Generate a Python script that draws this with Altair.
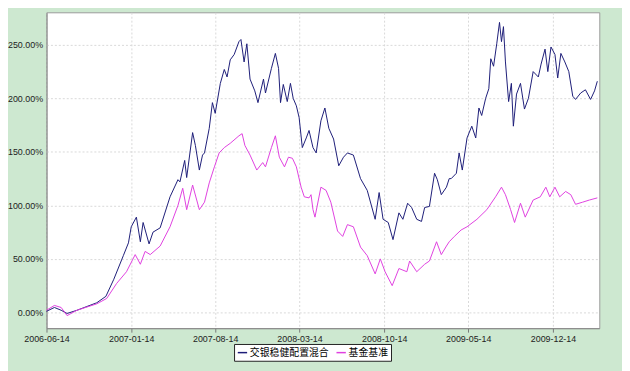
import altair as alt
import pandas as pd

series_names = ["交银稳健配置混合", "基金基准"]
series_colors = ["#1c1c78", "#e040e0"]

fund_dates = [
    "2006-06-14", "2006-07-04", "2006-07-21", "2006-08-05", "2006-08-30", "2006-09-24",
    "2006-10-19", "2006-11-11", "2006-12-01", "2006-12-25", "2007-01-07", "2007-01-14",
    "2007-01-27", "2007-02-06", "2007-02-13", "2007-02-28", "2007-03-10", "2007-03-28",
    "2007-04-22", "2007-05-12", "2007-05-17", "2007-05-29", "2007-06-03", "2007-06-18",
    "2007-06-25", "2007-07-05", "2007-07-13", "2007-07-18", "2007-07-30", "2007-08-07",
    "2007-08-14", "2007-08-27", "2007-09-06", "2007-09-13", "2007-09-21", "2007-10-01",
    "2007-10-13", "2007-10-18", "2007-10-26", "2007-11-02", "2007-11-10", "2007-11-22",
    "2007-11-30", "2007-12-14", "2007-12-19", "2008-01-03", "2008-01-13", "2008-01-21",
    "2008-01-26", "2008-02-02", "2008-02-12", "2008-02-20", "2008-02-27", "2008-03-06",
    "2008-03-13", "2008-03-21", "2008-03-31", "2008-04-07", "2008-04-17", "2008-04-25",
    "2008-05-07", "2008-05-17", "2008-05-27", "2008-06-08", "2008-06-21", "2008-07-03",
    "2008-07-13", "2008-07-28", "2008-08-15", "2008-09-01", "2008-09-21", "2008-10-01",
    "2008-10-11", "2008-10-24", "2008-11-05", "2008-11-20", "2008-11-30", "2008-12-12",
    "2008-12-22", "2009-01-04", "2009-01-16", "2009-01-24", "2009-02-05", "2009-02-18",
    "2009-02-25", "2009-03-07", "2009-03-20", "2009-03-27", "2009-04-01", "2009-04-14",
    "2009-04-21", "2009-04-29", "2009-05-11", "2009-05-23", "2009-06-02", "2009-06-10",
    "2009-06-17", "2009-06-27", "2009-07-05", "2009-07-10", "2009-07-17", "2009-07-25",
    "2009-08-01", "2009-08-06", "2009-08-11", "2009-08-16", "2009-08-24", "2009-08-31",
    "2009-09-05", "2009-09-13", "2009-09-23", "2009-10-03", "2009-10-13", "2009-10-25",
    "2009-11-07", "2009-11-14", "2009-11-24", "2009-12-01", "2009-12-09", "2009-12-19",
    "2009-12-26", "2010-01-03", "2010-01-13", "2010-01-23", "2010-02-02", "2010-02-09",
    "2010-02-22", "2010-03-06", "2010-03-19", "2010-03-29", "2010-04-05",
]
fund_values = [
    1, 4.6, 2, -1, 2, 5.5,
    9, 15, 31, 53, 65, 80,
    89, 66, 84, 64, 75, 79,
    108, 124, 122, 142, 126, 168,
    156, 133, 147, 149, 172, 196,
    186, 214, 227, 220, 236, 241,
    253, 255, 234, 251, 218, 207,
    196, 218, 205, 228, 242, 228,
    196, 213, 197, 214, 200, 193,
    182, 154, 163, 170, 154, 149,
    179, 191, 172, 162, 137, 145,
    149, 147, 125, 114, 87, 112,
    87, 84, 68, 93, 87, 102,
    98, 87, 85, 98, 99, 130,
    124, 110, 117, 125, 125, 130,
    149, 133, 163, 174, 163, 191,
    184, 200, 209, 237, 230, 251,
    271, 253, 267, 234, 197, 214,
    174, 204, 214, 190, 200, 225,
    220, 232, 246, 225, 248, 241,
    219, 242, 234, 225, 202, 199,
    205, 208, 199, 207, 216,
]

bench_dates = [
    "2006-06-14", "2006-07-04", "2006-07-21", "2006-08-05", "2006-08-30", "2006-10-19",
    "2006-11-13", "2006-12-08", "2007-01-02", "2007-01-24", "2007-02-06", "2007-02-18",
    "2007-03-03", "2007-03-28", "2007-04-22", "2007-05-12", "2007-05-24", "2007-06-03",
    "2007-06-18", "2007-07-05", "2007-07-18", "2007-07-30", "2007-08-12", "2007-08-24",
    "2007-09-06", "2007-09-21", "2007-10-13", "2007-10-21", "2007-10-28", "2007-11-10",
    "2007-11-27", "2007-12-12", "2007-12-19", "2008-01-03", "2008-01-13", "2008-01-23",
    "2008-02-05", "2008-02-15", "2008-02-25", "2008-03-06", "2008-03-18", "2008-03-26",
    "2008-04-07", "2008-04-12", "2008-04-17", "2008-04-22", "2008-05-07", "2008-05-20",
    "2008-06-01", "2008-06-18", "2008-07-01", "2008-07-13", "2008-07-28", "2008-08-15",
    "2008-09-01", "2008-09-21", "2008-10-04", "2008-10-16", "2008-11-03", "2008-11-20",
    "2008-12-10", "2008-12-17", "2009-01-04", "2009-01-24", "2009-02-05", "2009-02-23",
    "2009-03-07", "2009-03-20", "2009-03-27", "2009-04-09", "2009-04-26", "2009-05-11",
    "2009-06-05", "2009-06-30", "2009-07-22", "2009-08-06", "2009-08-16", "2009-08-29",
    "2009-09-08", "2009-09-23", "2009-10-05", "2009-10-25", "2009-11-12", "2009-11-26",
    "2009-12-06", "2009-12-19", "2009-12-31", "2010-01-15", "2010-01-28", "2010-02-09",
    "2010-02-27", "2010-03-16", "2010-04-05",
]
bench_values = [
    2, 6.5, 4.6, -3, 2, 8,
    13, 27, 38, 54, 45, 57,
    54, 62, 80, 100, 116, 96,
    119, 96, 103, 121, 136, 149,
    154, 158, 165, 167, 156, 147,
    133, 140, 136, 154, 165, 145,
    136, 145, 144, 136, 117, 108,
    107, 110, 96, 89, 117, 114,
    103, 76, 71, 82, 80, 61,
    53, 36, 50, 38, 25, 41,
    38, 48, 38, 45, 48, 66,
    54, 62, 66, 71, 77, 80,
    87, 96, 108, 117, 110, 96,
    84, 102, 89, 105, 108, 117,
    108, 117, 108, 113, 110, 101,
    103, 105, 107,
]

y_ticks = [0, 0.5, 1.0, 1.5, 2.0, 2.5]
x_tick_labels = ["2006-06-14", "2007-01-14", "2007-08-14", "2008-03-14",
                 "2008-10-14", "2009-05-14", "2009-12-14"]

rows = []
for d, v in zip(fund_dates, fund_values):
    rows.append({"date": d, "value": v / 100.0, "series": series_names[0]})
for d, v in zip(bench_dates, bench_values):
    rows.append({"date": d, "value": v / 100.0, "series": series_names[1]})
df = pd.DataFrame(rows)


def dt(s):
    y, m, d = s.split("-")
    return alt.DateTime(year=int(y), month=int(m), date=int(d), utc=True)


font = "Liberation Sans, Noto Sans CJK SC, sans-serif"

chart = alt.Chart(df).mark_line(strokeWidth=1, interpolate="linear").encode(
    x=alt.X(
        "date:T",
        scale=alt.Scale(type="utc", domain=[dt("2006-06-14"), dt("2010-04-10")], nice=False),
        axis=alt.Axis(
            title=None,
            values=[dt(s) for s in x_tick_labels],
            labelExpr="utcFormat(datum.value, '%Y-%m-%d')",
            labelFont=font, labelFontSize=9, labelColor="#222222",
            labelPadding=2, labelOverlap=False, labelFlush=False,
            tickSize=4, tickColor="#777777",
            domainColor="#888888",
            grid=True, gridColor="#d8d8d8", gridDash=[2, 2], gridWidth=1,
        ),
    ),
    y=alt.Y(
        "value:Q",
        scale=alt.Scale(domain=[-0.1476, 2.804], nice=False, zero=False),
        axis=alt.Axis(
            title=None,
            values=y_ticks,
            format=".2%",
            labelFont=font, labelFontSize=9, labelColor="#222222",
            labelPadding=4,
            ticks=False,
            domainColor="#888888",
            grid=True, gridColor="#d8d8d8", gridDash=[2, 2], gridWidth=1,
        ),
    ),
    color=alt.Color(
        "series:N",
        scale=alt.Scale(domain=series_names, range=series_colors),
        legend=alt.Legend(
            title=None,
            orient="none",
            legendX=190,
            legendY=336,
            direction="horizontal",
            symbolType="stroke",
            symbolSize=90,
            symbolStrokeWidth=1.5,
            labelFont=font,
            labelFontSize=10,
            labelColor="#000000",
            columnPadding=4,
            symbolOffset=0,
            labelOffset=2,
            padding=3,
            strokeColor="#222222",
            fillColor="#ffffff",
            cornerRadius=0,
        ),
    ),
    order=alt.Order("date:T"),
).properties(
    width=560,
    height=320,
    autosize=alt.AutoSizeParams(type="none"),
    padding={"left": 39, "top": 2, "right": 23, "bottom": 41},
    background="#cde8d0",
).configure_view(
    fill="#ffffff",
    stroke="#9a9a9a",
    strokeWidth=1,
)

chart.save("out.html", embed_options={"renderer": "svg", "actions": False})
